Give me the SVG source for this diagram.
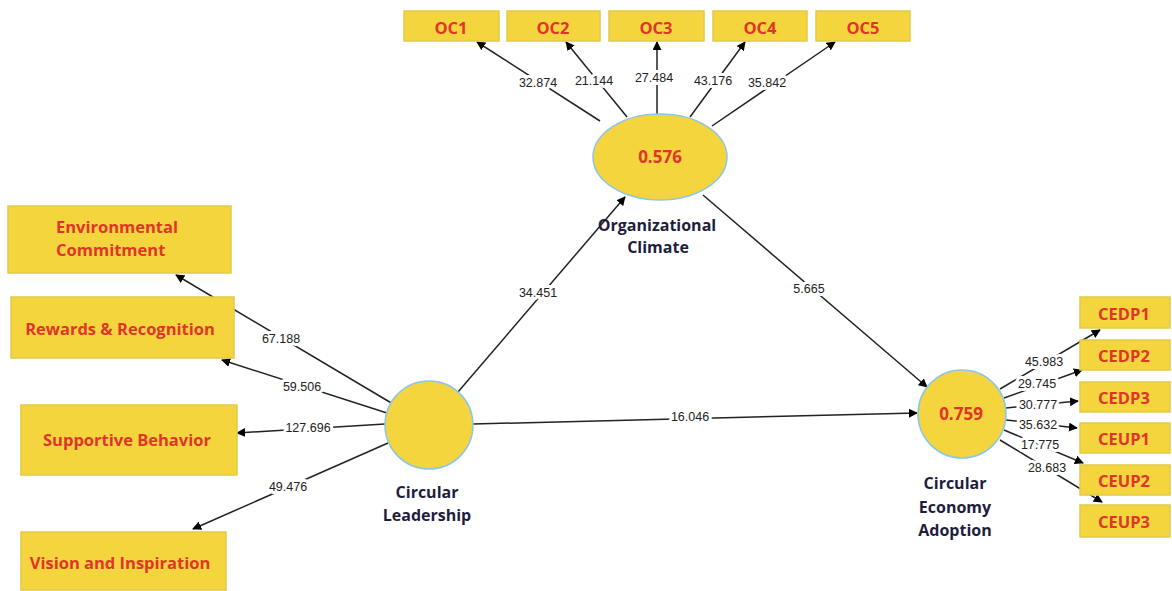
<svg xmlns="http://www.w3.org/2000/svg" width="1172" height="591" viewBox="0 0 1172 591">
<defs>
<marker id="ah" viewBox="0 0 10 10" refX="9" refY="5" markerWidth="9" markerHeight="9" markerUnits="userSpaceOnUse" orient="auto">
<path d="M0,0 L10,5 L0,10 z" fill="#000"/>
</marker>
</defs>
<style>
.box{fill:#F5D53D;stroke:#E2C94A;stroke-width:1.5}
.bt{font-family:"Open Sans","Liberation Sans",sans-serif;font-weight:bold;font-size:16.5px;fill:#E0352B}
.ot{font-family:"Open Sans","Liberation Sans",sans-serif;font-weight:bold;font-size:16.5px;fill:#E0352B;text-anchor:middle;dominant-baseline:central}
.lv{fill:#F5D53D;stroke:#8CC7E6;stroke-width:1.5}
.val{font-family:"Open Sans","Liberation Sans",sans-serif;font-weight:bold;font-size:17px;fill:#E0352B;text-anchor:middle;dominant-baseline:central}
.nm{font-family:"Open Sans","Liberation Sans",sans-serif;font-weight:bold;font-size:16px;fill:#1E1E3C;text-anchor:middle;dominant-baseline:central}
.ln{stroke:#222;stroke-width:1.5;fill:none;marker-end:url(#ah)}
.lb{font-family:"Liberation Sans",Arial,sans-serif;font-size:12.5px;fill:#222;text-anchor:middle;dominant-baseline:central;stroke:#fff;stroke-width:6px;paint-order:stroke;stroke-linejoin:round}
</style>
<rect width="1172" height="591" fill="#fff"/>
<g id="connectors">
<line class="ln" x1="600" y1="121" x2="477" y2="42"/>
<line class="ln" x1="627" y1="117" x2="566" y2="42"/>
<line class="ln" x1="657" y1="114" x2="657" y2="42"/>
<line class="ln" x1="690" y1="117" x2="745" y2="42"/>
<line class="ln" x1="712" y1="126" x2="835" y2="42"/>
<line class="ln" x1="393" y1="404" x2="176" y2="275"/>
<line class="ln" x1="387" y1="413" x2="222" y2="360"/>
<line class="ln" x1="385" y1="424" x2="237" y2="433"/>
<line class="ln" x1="388" y1="443" x2="193" y2="529"/>
<line class="ln" x1="458" y1="392" x2="625" y2="197"/>
<line class="ln" x1="703" y1="195" x2="927" y2="387"/>
<line class="ln" x1="473" y1="424" x2="917" y2="413"/>
<line class="ln" x1="1000" y1="389" x2="1100" y2="330"/>
<line class="ln" x1="1004" y1="398" x2="1082" y2="370"/>
<line class="ln" x1="1006" y1="408" x2="1078" y2="401"/>
<line class="ln" x1="1006" y1="420" x2="1077" y2="428"/>
<line class="ln" x1="1004" y1="430" x2="1083" y2="463"/>
<line class="ln" x1="1000" y1="440" x2="1102" y2="502"/>
<text class="lb" x="538" y="83">32.874</text>
<text class="lb" x="594" y="81">21.144</text>
<text class="lb" x="654" y="78">27.484</text>
<text class="lb" x="713" y="81">43.176</text>
<text class="lb" x="767" y="83">35.842</text>
<text class="lb" x="281" y="339">67.188</text>
<text class="lb" x="302" y="387">59.506</text>
<text class="lb" x="308" y="428">127.696</text>
<text class="lb" x="288" y="487">49.476</text>
<text class="lb" x="538" y="293">34.451</text>
<text class="lb" x="809" y="289">5.665</text>
<text class="lb" x="690" y="417">16.046</text>
<text class="lb" x="1044" y="362">45.983</text>
<text class="lb" x="1037" y="384">29.745</text>
<text class="lb" x="1038" y="405">30.777</text>
<text class="lb" x="1038" y="425">35.632</text>
<text class="lb" x="1040" y="445">17.775</text>
<text class="lb" x="1047" y="468">28.683</text>
</g>
<g id="oc1"><rect class="box" x="404" y="11" width="95" height="30"/><text class="ot" x="451" y="27">OC1</text></g>
<g id="oc2"><rect class="box" x="507" y="11" width="93" height="30"/><text class="ot" x="553" y="27">OC2</text></g>
<g id="oc3"><rect class="box" x="609" y="11" width="95" height="30"/><text class="ot" x="656" y="27">OC3</text></g>
<g id="oc4"><rect class="box" x="713" y="11" width="94" height="30"/><text class="ot" x="760" y="27">OC4</text></g>
<g id="oc5"><rect class="box" x="816" y="11" width="94" height="30"/><text class="ot" x="863" y="27">OC5</text></g>
<g id="organizational-climate">
<ellipse class="lv" cx="660" cy="157" rx="67" ry="43"/>
<text class="val" x="660" y="156">0.576</text>
<text class="nm" x="657" y="225">Organizational</text>
<text class="nm" x="658" y="247">Climate</text>
</g>
<g id="env-commitment"><rect class="box" x="8" y="206" width="223" height="67"/><text class="bt" x="56" y="233">Environmental</text><text class="bt" x="56" y="256">Commitment</text></g>
<g id="rewards"><rect class="box" x="11" y="297" width="223" height="61"/><text class="bt" x="120" y="335" text-anchor="middle">Rewards &amp; Recognition</text></g>
<g id="supportive"><rect class="box" x="21" y="405" width="216" height="70"/><text class="bt" x="127" y="446" text-anchor="middle">Supportive Behavior</text></g>
<g id="vision"><rect class="box" x="21" y="532" width="205" height="58"/><text class="bt" x="120" y="569" text-anchor="middle">Vision and Inspiration</text></g>
<g id="circular-leadership">
<circle class="lv" cx="429" cy="425" r="44"/>
<text class="nm" x="427" y="492">Circular</text>
<text class="nm" x="427" y="515">Leadership</text>
</g>
<g id="circular-economy-adoption">
<circle class="lv" cx="962" cy="414" r="44"/>
<text class="val" x="961" y="413">0.759</text>
<text class="nm" x="955" y="483">Circular</text>
<text class="nm" x="955" y="507">Economy</text>
<text class="nm" x="955" y="530">Adoption</text>
</g>
<g id="cedp1"><rect class="box" x="1080" y="297" width="90" height="31"/><text class="ot" x="1124" y="313">CEDP1</text></g>
<g id="cedp2"><rect class="box" x="1080" y="340" width="90" height="30"/><text class="ot" x="1124" y="355">CEDP2</text></g>
<g id="cedp3"><rect class="box" x="1080" y="382" width="90" height="30"/><text class="ot" x="1124" y="397">CEDP3</text></g>
<g id="ceup1"><rect class="box" x="1080" y="423" width="90" height="30"/><text class="ot" x="1124" y="438">CEUP1</text></g>
<g id="ceup2"><rect class="box" x="1080" y="465" width="90" height="30"/><text class="ot" x="1124" y="480">CEUP2</text></g>
<g id="ceup3"><rect class="box" x="1080" y="505" width="90" height="32"/><text class="ot" x="1124" y="521">CEUP3</text></g>
</svg>
